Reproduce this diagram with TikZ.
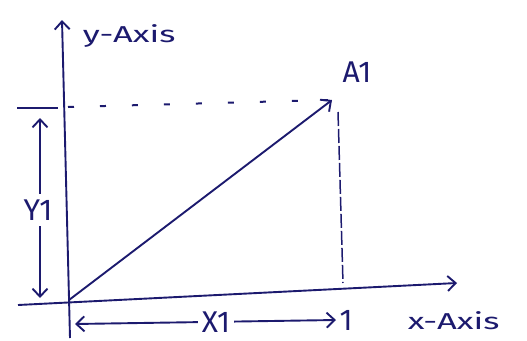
\documentclass[tikz,border=0pt]{standalone}
\usepackage{fontspec}
\setmainfont{Fira Sans}
\usetikzlibrary{arrows.meta}
\definecolor{ink}{RGB}{28,26,110}
\tikzset{
  every path/.style={line width=1.9pt},
  tip/.style={-{Straight Barb[length=8pt,width=15pt,line width=1.9pt]}},
  bitip/.style={{Straight Barb[length=8pt,width=15pt,line width=1.9pt]}-{Straight Barb[length=8pt,width=15pt,line width=1.9pt]}},
  guide/.style={dash pattern=on 6pt off 26pt, line width=2pt},
  vguide/.style={dash pattern=on 14pt off 3pt, line width=1.5pt},
  lab/.style={text=ink, inner sep=1pt, font=\fontsize{30}{30}\selectfont},
  small/.style={text=ink, inner sep=1pt, xscale=1.5, font=\fontsize{23}{23}\selectfont},
  gap/.style={lab, fill=white, inner sep=6pt}
}
\begin{document}
\begin{tikzpicture}[x=1pt,y=-1pt,ink,draw=ink]
\path[use as bounding box] (0,0) rectangle (527,340);
% axes
\coordinate (ybot) at (70,338);
\coordinate (ytop) at (62,20);
\coordinate (xleft) at (18,305);
\coordinate (xright) at (457,283);
\coordinate (O) at (69,300);
\coordinate (A) at (332,100);
\coordinate (P) at (343,283);
\coordinate (Q) at (68,107);
\coordinate (tickL) at (17,108);
\coordinate (tickR) at (58,108);
\draw[tip] (ybot) -- (ytop);
\draw[tip] (xleft) -- (xright);
\node[small, anchor=west] (ylab) at (80,36) {y-Axis};
\node[small, anchor=west] (xlab) at (405,321) {x-Axis};
% vector
\draw[tip] (O) -- (A);
\node[lab] (a1) at (357,72) {A1};
% guides
\draw[guide] (Q) -- ([xshift=-4pt]A);
\draw[vguide] ([shift={(6,12)}]A) -- (P);
\draw (tickL) -- (tickR);
% Y1 dimension
\coordinate (y1a) at (40,118);
\coordinate (y1b) at (40,298);
\draw[bitip] (y1a) -- (y1b);
\node[gap] (y1) at (38,210) {Y1};
% X1 dimension
\coordinate (x1a) at (75,324);
\coordinate (x1b) at (336,320);
\draw[bitip] (x1a) -- (x1b);
\node[gap, inner sep=4pt] (x1) at (216,322) {X1};
\node[lab] (one) at (346,320) {1};
\end{tikzpicture}
\end{document}
